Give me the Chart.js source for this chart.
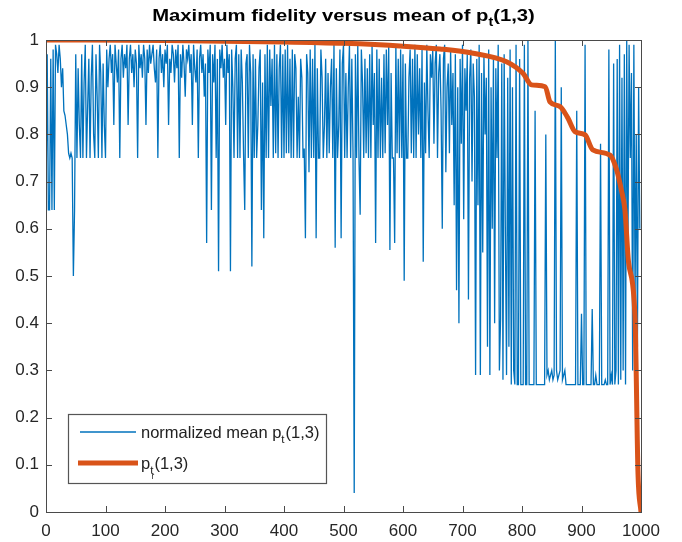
<!DOCTYPE html>
<html>
<head>
<meta charset="utf-8">
<script src="https://cdn.jsdelivr.net/npm/chart.js@4"></script>
<style>
  html, body { margin: 0; padding: 0; background: #fff; }
  #wrap { width: 682px; height: 542px; }
</style>
</head>
<body>
<div id="wrap"><canvas id="c" width="682" height="542"></canvas></div>
<script>
// ---- data ----
const xTicks = [0, 100, 200, 300, 400, 500, 600, 700, 800, 900, 1000];
const yTicks = [0, 0.1, 0.2, 0.3, 0.4, 0.5, 0.6, 0.7, 0.8, 0.9, 1];

// normalized mean p_t(1,3): one sample every 2 trials (trial 0 .. 998)
const blueSpacing = 2;
const blueY = [
  0.64,0.97,0.64,0.64,0.96,0.64,0.98,0.64,0.99,0.97,
  0.93,0.99,0.96,0.90,0.94,0.85,0.84,0.82,0.80,0.76,
  0.75,0.76,0.75,0.50,0.64,0.97,0.75,0.94,0.82,0.75,
  0.97,0.75,0.91,0.99,0.75,0.86,0.96,0.75,0.92,0.99,
  0.80,0.75,0.97,0.88,0.75,0.99,0.93,0.75,0.95,0.82,
  0.75,0.98,0.90,0.96,0.99,0.93,0.97,0.82,0.99,0.95,
  0.91,0.98,0.75,0.96,0.99,0.92,0.97,0.94,0.99,0.82,
  0.96,0.99,0.93,0.97,0.90,0.98,0.95,0.75,0.99,0.94,
  0.97,0.92,0.99,0.96,0.82,0.98,0.93,0.99,0.95,0.97,
  0.99,0.94,0.91,0.98,0.75,0.96,0.99,0.93,0.97,0.90,
  0.98,0.95,0.99,0.82,0.96,0.93,0.99,0.97,0.91,0.98,
  0.94,0.99,0.75,0.97,0.92,0.99,0.95,0.88,0.98,0.96,
  0.99,0.93,0.97,0.82,0.99,0.94,0.91,0.98,0.75,0.96,
  0.99,0.93,0.97,0.88,0.95,0.57,0.98,0.93,0.99,0.64,
  0.97,0.91,0.99,0.75,0.96,0.51,0.98,0.94,0.99,0.92,
  0.96,0.82,0.99,0.93,0.97,0.51,0.98,0.90,0.75,0.96,
  0.99,0.75,0.97,0.75,0.98,0.91,0.76,0.64,0.95,0.97,
  0.75,0.99,0.93,0.52,0.97,0.75,0.96,0.75,0.82,0.94,
  0.98,0.64,0.91,0.58,0.97,0.75,0.99,0.75,0.98,0.86,
  0.96,0.75,0.99,0.76,0.97,0.75,0.94,0.99,0.75,0.97,
  0.75,0.98,0.76,0.99,0.76,0.96,0.75,0.98,0.75,0.97,
  0.94,0.75,0.88,0.75,0.96,0.92,0.75,0.77,0.58,0.97,
  0.93,0.72,0.98,0.75,0.96,0.75,0.99,0.58,0.94,0.75,
  0.75,0.98,0.92,0.75,0.82,0.96,0.75,0.93,0.76,0.90,
  0.96,0.75,0.99,0.56,0.94,0.75,0.82,0.98,0.58,0.95,
  0.99,0.75,0.93,0.75,0.90,0.99,0.75,0.96,0.76,0.04,
  0.97,0.75,0.99,0.75,0.63,0.98,0.91,0.75,0.96,0.76,
  0.94,0.75,0.97,0.75,0.99,0.82,0.93,0.57,0.98,0.75,
  0.96,0.75,0.92,0.75,0.97,0.76,0.98,0.82,0.99,0.555,
  0.93,0.75,0.75,0.57,0.99,0.76,0.96,0.75,0.98,0.75,
  0.97,0.49,0.95,0.75,0.75,0.92,0.98,0.76,0.96,0.75,
  0.99,0.75,0.97,0.80,0.94,0.75,0.98,0.53,0.91,0.76,
  0.99,0.85,0.75,0.97,0.92,0.98,0.78,0.95,0.99,0.75,
  0.93,0.97,0.85,0.60,0.96,0.99,0.72,0.90,0.95,0.76,
  0.98,0.82,0.93,0.65,0.97,0.47,0.90,0.40,0.96,0.78,
  0.99,0.62,0.94,0.85,0.97,0.45,0.92,0.98,0.70,0.95,
  0.88,0.29,0.96,0.65,0.99,0.29,0.93,0.55,0.97,0.80,
  0.92,0.35,0.98,0.29,0.90,0.60,0.96,0.40,0.94,0.75,
  0.99,0.30,0.41,0.95,0.28,0.97,0.60,0.29,0.92,0.35,
  0.98,0.27,0.90,0.30,0.27,0.99,0.27,0.27,0.96,0.27,
  0.27,0.27,0.99,0.27,0.27,1.00,0.27,0.27,0.27,0.27,
  0.27,0.85,0.27,0.27,0.27,0.27,0.27,0.27,0.27,0.27,
  0.80,0.29,0.30,0.28,0.29,0.30,0.28,0.29,1.00,0.30,
  0.28,0.29,0.30,0.90,0.28,0.29,0.30,0.27,0.27,0.27,
  0.27,0.27,0.27,0.27,0.27,0.27,0.85,0.27,0.27,0.27,
  0.42,0.27,0.27,0.99,0.27,0.27,0.27,0.27,0.27,0.43,
  0.27,0.27,0.29,0.27,0.27,0.27,0.78,0.27,0.27,0.27,
  0.28,0.27,0.27,0.98,0.27,0.29,0.27,0.95,0.27,0.30,
  0.96,0.27,0.99,0.28,0.92,0.30,0.97,0.27,1.00,0.55,
  0.99,0.75,0.93,0.30,0.99,0.45,0.80,0.35,0.90,0.60
];

// p_t(1,3) maximum fidelity curve (sorted)
const fidX = [0, 200, 400, 500, 600, 662, 718, 774, 802, 816, 839, 847, 864, 877, 889, 906, 919, 948, 959, 967, 973, 979, 990, 995, 1000];
const fidY = [1.0, 0.999, 0.996, 0.993, 0.987, 0.981, 0.972, 0.954, 0.929, 0.905, 0.901, 0.869, 0.859, 0.835, 0.806, 0.799, 0.767, 0.756, 0.725, 0.682, 0.64, 0.53, 0.41, 0.08, 0.0];

const titleMain = 'Maximum fidelity versus mean of p';
const titleSub = 't';
const titleTail = '(1,3)';
const legendLabels = [
  { main: 'normalized mean p', sub: 't', subsub: '', tail: '(1,3)' },
  { main: 'p', sub: 't', subsub: 'r', tail: '(1,3)' }
];

const BLUE = '#0072BD';
const ORANGE = '#D95319';
const AXIS = '#4a4a4a';
const FONT = '"Liberation Sans", Arial, Helvetica, sans-serif';

const bluePoints = blueY.map((v, i) => ({ x: i * blueSpacing, y: v }));
const fidPoints = fidX.map((x, i) => ({ x: x, y: fidY[i] }));

const framePlugin = {
  id: 'frame',
  afterDatasetsDraw(chart) {
    const { ctx, chartArea: a, scales } = chart;
    const xs = scales.x, ys = scales.y;
    ctx.save();
    ctx.strokeStyle = AXIS;
    ctx.lineWidth = 1;
    ctx.strokeRect(Math.round(a.left) + 0.5, Math.round(a.top) + 0.5,
                   Math.round(a.right - a.left), Math.round(a.bottom - a.top));
    const tl = 6;
    ctx.beginPath();
    xTicks.forEach(v => {
      const px = Math.round(xs.getPixelForValue(v)) + 0.5;
      ctx.moveTo(px, a.bottom); ctx.lineTo(px, a.bottom - tl);
      ctx.moveTo(px, a.top); ctx.lineTo(px, a.top + tl);
    });
    yTicks.forEach(v => {
      const py = Math.round(ys.getPixelForValue(v)) + 0.5;
      ctx.moveTo(a.left, py); ctx.lineTo(a.left + tl, py);
      ctx.moveTo(a.right, py); ctx.lineTo(a.right - tl, py);
    });
    ctx.stroke();
    ctx.restore();
  },
  afterDraw(chart) {
    const { ctx, chartArea: a } = chart;
    ctx.save();
    // ---- title ----
    const tSize = 17, sx = 1.19;
    ctx.fillStyle = '#000';
    ctx.textBaseline = 'alphabetic';
    ctx.textAlign = 'left';
    ctx.font = 'bold ' + tSize + 'px ' + FONT;
    const w1 = ctx.measureText(titleMain).width;
    const w3 = ctx.measureText(titleTail).width;
    ctx.font = 'bold ' + Math.round(tSize * 0.7) + 'px ' + FONT;
    const w2 = ctx.measureText(titleSub).width;
    const total = (w1 + w2 + w3) * sx;
    const cx = (a.left + a.right) / 2;
    ctx.translate(cx - total / 2, 21);
    ctx.scale(sx, 1);
    ctx.font = 'bold ' + tSize + 'px ' + FONT;
    ctx.fillText(titleMain, 0, 0);
    ctx.font = 'bold ' + Math.round(tSize * 0.7) + 'px ' + FONT;
    ctx.fillText(titleSub, w1, 5);
    ctx.font = 'bold ' + tSize + 'px ' + FONT;
    ctx.fillText(titleTail, w1 + w2, 0);
    ctx.restore();

    // ---- legend ----
    ctx.save();
    const bx = 68.5, by = 414.5, bw = 258, bh = 69;
    ctx.fillStyle = '#fff';
    ctx.fillRect(bx, by, bw, bh);
    ctx.strokeStyle = '#555';
    ctx.lineWidth = 1.2;
    ctx.strokeRect(bx, by, bw, bh);
    const rows = [432, 463];
    const styles = [{ c: BLUE, w: 1.3 }, { c: ORANGE, w: 5 }];
    rows.forEach((ry, i) => {
      ctx.strokeStyle = styles[i].c;
      ctx.lineWidth = styles[i].w;
      ctx.beginPath();
      ctx.moveTo(i === 0 ? 80 : 78, ry);
      ctx.lineTo(i === 0 ? 136 : 138, ry);
      ctx.stroke();
      const L = legendLabels[i];
      const fs = 16.5;
      let x = 141;
      const base = ry + 6;
      ctx.fillStyle = '#222';
      ctx.textBaseline = 'alphabetic';
      ctx.font = fs + 'px ' + FONT;
      ctx.fillText(L.main, x, base);
      x += ctx.measureText(L.main).width;
      ctx.font = (fs * 0.7) + 'px ' + FONT;
      ctx.fillText(L.sub, x, base + 5);
      let sw = ctx.measureText(L.sub).width;
      if (L.subsub) {
        ctx.font = (fs * 0.5) + 'px ' + FONT;
        ctx.fillText(L.subsub, x + sw * 0.4, base + 10);
      }
      x += sw + 1;
      ctx.font = fs + 'px ' + FONT;
      ctx.fillText(L.tail, x, base);
    });
    ctx.restore();
  }
};

new Chart(document.getElementById('c'), {
  type: 'line',
  data: {
    datasets: [
      {
        label: 'p_t(1,3)',
        data: fidPoints,
        borderColor: ORANGE,
        borderWidth: 5,
        pointRadius: 0,
        cubicInterpolationMode: 'monotone',
        fill: false,
        order: 0
      },
      {
        label: 'normalized mean p_t(1,3)',
        data: bluePoints,
        borderColor: BLUE,
        borderWidth: 1.3,
        pointRadius: 0,
        tension: 0,
        fill: false,
        order: 1
      }
    ]
  },
  options: {
    responsive: false,
    animation: false,
    devicePixelRatio: 1,
    layout: { padding: { top: 40, right: 41, left: 0, bottom: 0 } },
    plugins: { legend: { display: false }, title: { display: false }, tooltip: { enabled: false } },
    scales: {
      x: {
        type: 'linear', min: 0, max: 1000,
        afterBuildTicks: s => { s.ticks = xTicks.map(v => ({ value: v })); },
        afterFit: s => { s.height = 30; },
        grid: { display: false, drawTicks: false },
        border: { display: false },
        ticks: { color: '#262626', font: { family: FONT, size: 17 }, padding: 9, maxRotation: 0, autoSkip: false,
                 callback: v => String(v) }
      },
      y: {
        type: 'linear', min: 0, max: 1,
        afterBuildTicks: s => { s.ticks = yTicks.map(v => ({ value: v })); },
        afterFit: s => { s.width = 46; },
        grid: { display: false, drawTicks: false },
        border: { display: false },
        ticks: { color: '#262626', font: { family: FONT, size: 17 }, padding: 7, autoSkip: false,
                 callback: v => String(Math.round(v * 10) / 10) }
      }
    }
  },
  plugins: [framePlugin]
});
</script>
</body>
</html>
